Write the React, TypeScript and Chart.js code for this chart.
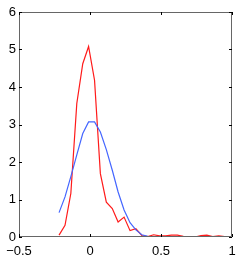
import React, { useEffect, useRef } from "react";
import { Chart, registerables } from "chart.js";

Chart.register(...registerables);

const xValues = [-0.218, -0.176, -0.135, -0.093, -0.051, -0.01, 0.032, 0.073, 0.115, 0.157, 0.198, 0.24, 0.282, 0.323, 0.365, 0.407, 0.448, 0.49, 0.532, 0.573, 0.615, 0.657, 0.698, 0.74, 0.782, 0.823, 0.865, 0.907, 0.948, 0.99];
const redValues = [0.05, 0.31, 1.16, 3.56, 4.62, 5.08, 4.18, 1.69, 0.93, 0.76, 0.4, 0.53, 0.17, 0.22, 0.04, 0.01, 0.06, 0.03, 0.03, 0.05, 0.05, 0.02, 0.0, 0.0, 0.04, 0.05, 0.01, 0.03, 0.01, 0.01];
const blueValues = [0.65, 1.07, 1.61, 2.19, 2.76, 3.07, 3.07, 2.8, 2.33, 1.78, 1.2, 0.72, 0.38, 0.19, 0.06, 0.02, 0.01, 0.0, 0.0, 0.0, 0.0, 0.0, 0.0, 0.0, 0.0, 0.0, 0.0, 0.0, 0.0, 0.0];
const xTicks = [-0.5, 0, 0.5, 1];
const yTicks = [0, 1, 2, 3, 4, 5, 6];

const fmt = (v: any) => (Number(v) < 0 ? "\u2212" + String(Math.abs(Number(v))) : String(v));
const FONT = "13px 'Liberation Sans'";

const frameAndTicks = {
  id: "frameAndTicks",
  afterDraw(chart: any) {
    const { ctx, chartArea, scales, width } = chart;
    const { left, right, top, bottom } = chartArea;
    ctx.save();
    ctx.strokeStyle = "#666";
    ctx.lineWidth = 1;
    ctx.beginPath();
    ctx.rect(left + 0.5, top + 0.5, right - left - 1, bottom - top - 1);
    ctx.stroke();
    ctx.strokeStyle = "#000";
    const len = 3;
    ctx.beginPath();
    for (const v of yTicks) {
      const y = Math.round(scales.y.getPixelForValue(v)) + 0.5;
      ctx.moveTo(left, y);
      ctx.lineTo(left + len, y);
      ctx.moveTo(right, y);
      ctx.lineTo(right - len, y);
    }
    for (const v of xTicks) {
      const x = Math.round(scales.x.getPixelForValue(v)) + 0.5;
      ctx.moveTo(x, bottom);
      ctx.lineTo(x, bottom - len);
      ctx.moveTo(x, top);
      ctx.lineTo(x, top + len);
    }
    ctx.stroke();
    // x tick labels, kept inside the canvas
    ctx.font = FONT;
    ctx.fillStyle = "#000";
    ctx.textBaseline = "alphabetic";
    ctx.textAlign = "left";
    for (const v of xTicks) {
      const label = fmt(v);
      const w = ctx.measureText(label).width;
      let x = scales.x.getPixelForValue(v) - w / 2;
      x = Math.max(1, Math.min(width - w, x));
      ctx.fillText(label, x, bottom + 17.5);
    }
    ctx.restore();
  },
};

export default function App() {
  const ref = useRef<HTMLCanvasElement>(null);
  useEffect(() => {
    document.body.style.margin = "0";
    const chart = new Chart(ref.current!, {
      type: "line",
      data: {
        datasets: [
          {
            data: xValues.map((x, i) => ({ x, y: blueValues[i] })),
            borderColor: "#4466ff",
            borderWidth: 1.2,
            pointRadius: 0,
            tension: 0,
          },
          {
            data: xValues.map((x, i) => ({ x, y: redValues[i] })),
            borderColor: "#ff1a1a",
            borderWidth: 1.2,
            pointRadius: 0,
            tension: 0,
          },
        ],
      },
      options: {
        animation: false,
        responsive: false,
        maintainAspectRatio: false,
        layout: { padding: { top: 12, right: 10, left: 0, bottom: 0 } },
        plugins: { legend: { display: false }, tooltip: { enabled: false } },
        scales: {
          x: {
            type: "linear",
            min: -0.5,
            max: 1,
            afterBuildTicks: (s: any) => {
              s.ticks = xTicks.map((v) => ({ value: v }));
            },
            afterFit: (s: any) => {
              s.height = 24;
            },
            grid: { display: false, drawTicks: false },
            border: { display: false },
            ticks: { display: false },
          },
          y: {
            type: "linear",
            min: 0,
            max: 6,
            afterBuildTicks: (s: any) => {
              s.ticks = yTicks.map((v) => ({ value: v }));
            },
            afterFit: (s: any) => {
              s.width = 19;
            },
            grid: { display: false, drawTicks: false },
            border: { display: false },
            ticks: {
              color: "#000",
              padding: 3,
              font: { family: "Liberation Sans", size: 13 },
              callback: fmt,
            },
          },
        },
      },
      plugins: [frameAndTicks],
    });
    return () => chart.destroy();
  }, []);
  return <canvas ref={ref} width={242} height={261} style={{ display: "block" }} />;
}
